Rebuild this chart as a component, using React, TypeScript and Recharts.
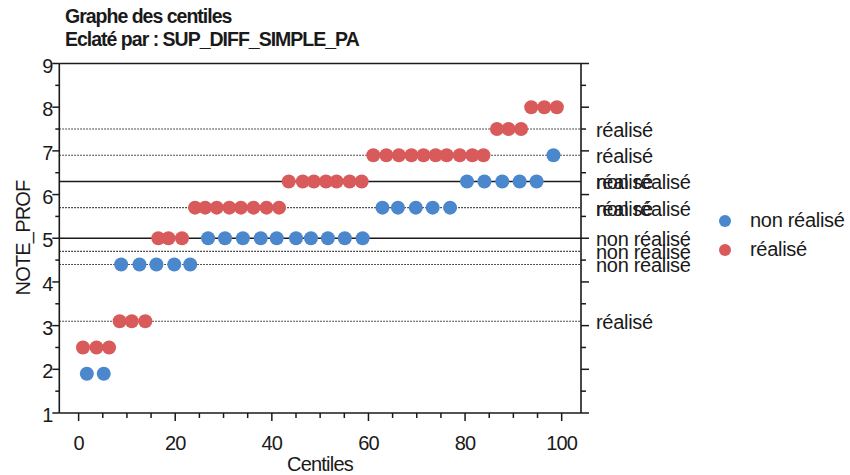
import { ScatterChart, Scatter, XAxis, YAxis, ReferenceLine, Legend } from "recharts"

const groups = ["non réalisé", "réalisé"]

// non réalisé
const nonRealiseCentiles = [
  1.7, 5.2,
  8.8, 12.6, 16.1, 19.8, 23.1,
  26.8, 30.3, 34.0, 37.7, 41.0, 45.0, 48.1, 51.6, 55.1, 58.8,
  62.9, 66.1, 69.8, 73.3, 76.9,
  80.4, 84.0, 87.7, 91.3, 94.8,
  98.3,
]
const nonRealiseNotes = [
  1.9, 1.9,
  4.4, 4.4, 4.4, 4.4, 4.4,
  5.0, 5.0, 5.0, 5.0, 5.0, 5.0, 5.0, 5.0, 5.0, 5.0,
  5.7, 5.7, 5.7, 5.7, 5.7,
  6.3, 6.3, 6.3, 6.3, 6.3,
  6.9,
]

// réalisé
const realiseCentiles = [
  0.9, 3.7, 6.3,
  8.5, 11.0, 13.8,
  16.5, 18.6, 21.4,
  24.1, 26.2, 28.6, 31.2, 33.6, 36.2, 38.9, 41.5,
  43.5, 46.4, 48.7, 51.2, 53.4, 56.1, 58.6,
  61.0, 63.7, 66.3, 68.9, 71.4, 73.9, 76.2, 78.9, 81.5, 83.8,
  86.6, 89.0, 91.6,
  93.7, 96.4, 99.0,
]
const realiseNotes = [
  2.5, 2.5, 2.5,
  3.1, 3.1, 3.1,
  5.0, 5.0, 5.0,
  5.7, 5.7, 5.7, 5.7, 5.7, 5.7, 5.7, 5.7,
  6.3, 6.3, 6.3, 6.3, 6.3, 6.3, 6.3,
  6.9, 6.9, 6.9, 6.9, 6.9, 6.9, 6.9, 6.9, 6.9, 6.9,
  7.5, 7.5, 7.5,
  8.0, 8.0, 8.0,
]

// lignes de statistiques (médianes en trait plein, le reste en pointillé)
const statNotes = [7.5, 6.9, 6.3, 5.7, 5.0, 4.7, 4.4, 3.1]
const statGroups = [
  ["réalisé"],
  ["réalisé"],
  ["non réalisé", "réalisé"],
  ["non réalisé", "réalisé"],
  ["non réalisé"],
  ["non réalisé"],
  ["non réalisé"],
  ["réalisé"],
]
const medianNotes = [5.0, 6.3]

const xTicks = [0, 5, 10, 15, 20, 25, 30, 35, 40, 45, 50, 55, 60, 65, 70, 75, 80, 85, 90, 95, 100]
const xMajor = [0, 20, 40, 60, 80, 100]
const yTicks = [1, 1.5, 2, 2.5, 3, 3.5, 4, 4.5, 5, 5.5, 6, 6.5, 7, 7.5, 8, 8.5, 9]

const FONT = '"Liberation Sans", Arial, sans-serif'
const INK = "#1a1a1a"
const COLORS = ["#4a87cc", "#d85a5b"]

const nonRealiseData = nonRealiseCentiles.map((c, i) => ({ x: c, y: nonRealiseNotes[i] }))
const realiseData = realiseCentiles.map((c, i) => ({ x: c, y: realiseNotes[i] }))

function BottomTick({ x, y, payload }: any) {
  const major = xMajor.includes(payload.value)
  return (
    <g>
      <line x1={x} x2={x} y1={y} y2={y + (major ? 8 : 5)} stroke={INK} strokeWidth={1.5} />
      {major && (
        <text x={x} y={y + 37} textAnchor="middle" fontFamily={FONT} fontSize={20} letterSpacing={-0.8} fill={INK}>
          {payload.value}
        </text>
      )}
    </g>
  )
}

function TopTick({ x, y, payload }: any) {
  const major = xMajor.includes(payload.value)
  return <line x1={x} x2={x} y1={y} y2={y - (major ? 8 : 5)} stroke={INK} strokeWidth={1.5} />
}

function LeftTick({ x, y, payload }: any) {
  const major = Number.isInteger(payload.value)
  return (
    <g>
      <line x1={x} x2={x - (major ? 7 : 4)} y1={y} y2={y} stroke={INK} strokeWidth={1.5} />
      {major && (
        <text x={x - 6} y={y + 9} textAnchor="end" fontFamily={FONT} fontSize={20} fill={INK}>
          {payload.value}
        </text>
      )}
    </g>
  )
}

function RightTick({ x, y, payload }: any) {
  const major = Number.isInteger(payload.value)
  return <line x1={x} x2={x + (major ? 8 : 5)} y1={y} y2={y} stroke={INK} strokeWidth={1.5} />
}

function StatLabel({ viewBox, labels }: any) {
  const right = viewBox.x + viewBox.width
  return (
    <g>
      {labels.map((t: string) => (
        <text key={t} x={right + 15} y={viewBox.y + 8} fontFamily={FONT} fontSize={20} letterSpacing={-0.3} fill={INK}>
          {t}
        </text>
      ))}
    </g>
  )
}

function LegendBox() {
  return (
    <div style={{ fontFamily: FONT, fontSize: 20, letterSpacing: -0.3, color: INK }}>
      {groups.map((g, i) => (
        <div key={g} style={{ display: "flex", alignItems: "center", height: 29 }}>
          <span
            style={{ display: "inline-block", width: 12, height: 12, borderRadius: 6, background: COLORS[i], marginRight: 19 }}
          />
          <span>{g}</span>
        </div>
      ))}
    </div>
  )
}

export default function App() {
  return (
    <div style={{ position: "absolute", left: 0, top: 0, background: "#fff" }}>
      <ScatterChart width={850} height={475} margin={{ top: 0, right: 0, bottom: 0, left: 0 }}>
        <XAxis
          xAxisId={0}
          type="number"
          dataKey="x"
          domain={[-4, 104]}
          ticks={xTicks}
          interval={0}
          tick={<BottomTick />}
          tickLine={false}
          tickSize={0}
          tickMargin={0}
          height={62}
          axisLine={{ stroke: INK, strokeWidth: 1.6 }}
          allowDataOverflow
        />
        <XAxis
          xAxisId="top"
          orientation="top"
          type="number"
          domain={[-4, 104]}
          ticks={xTicks}
          interval={0}
          tick={<TopTick />}
          tickLine={false}
          tickSize={0}
          tickMargin={0}
          height={63.5}
          axisLine={{ stroke: INK, strokeWidth: 1.6 }}
          allowDataOverflow
        />
        <YAxis
          yAxisId={0}
          type="number"
          dataKey="y"
          domain={[1, 9]}
          ticks={yTicks}
          interval={0}
          tick={<LeftTick />}
          tickLine={false}
          tickSize={0}
          tickMargin={0}
          width={59.3}
          axisLine={{ stroke: INK, strokeWidth: 1.6 }}
          allowDataOverflow
        />
        <YAxis
          yAxisId="right"
          orientation="right"
          type="number"
          domain={[1, 9]}
          ticks={yTicks}
          interval={0}
          tick={<RightTick />}
          tickLine={false}
          tickSize={0}
          tickMargin={0}
          width={269}
          axisLine={{ stroke: INK, strokeWidth: 1.6 }}
          allowDataOverflow
        />
        {statNotes.map((note, i) => {
          const median = medianNotes.includes(note)
          return (
            <ReferenceLine
              key={note}
              y={note}
              stroke={INK}
              strokeWidth={median ? 1.5 : 1.1}
              strokeDasharray={median ? undefined : "1.5 1.5"}
              label={(props: any) => <StatLabel viewBox={props.viewBox} labels={statGroups[i]} />}
            />
          )
        })}
        <Scatter
          name={groups[0]}
          data={nonRealiseData}
          fill={COLORS[0]}
          isAnimationActive={false}
          shape={(p: any) => <circle cx={p.cx} cy={p.cy} r={7} fill={COLORS[0]} />}
        />
        <Scatter
          name={groups[1]}
          data={realiseData}
          fill={COLORS[1]}
          isAnimationActive={false}
          shape={(p: any) => <circle cx={p.cx} cy={p.cy} r={7} fill={COLORS[1]} />}
        />
        <Legend
          layout="vertical"
          align="center"
          verticalAlign="middle"
          wrapperStyle={{ left: 719, top: 206, width: 131 }}
          content={() => <LegendBox />}
        />
        <text x={65} y={23} fontFamily={FONT} fontWeight="bold" fontSize={19.5} letterSpacing={-1} fill={INK}>
          Graphe des centiles
        </text>
        <text x={65} y={46} fontFamily={FONT} fontWeight="bold" fontSize={19.5} letterSpacing={-1} fill={INK}>
          Eclaté par : SUP_DIFF_SIMPLE_PA
        </text>
        <text x={320} y={471} textAnchor="middle" fontFamily={FONT} fontSize={20} letterSpacing={-0.8} fill={INK}>
          Centiles
        </text>
        <text
          x={30}
          y={238}
          textAnchor="middle"
          transform="rotate(-90 30 238)"
          fontFamily={FONT}
          fontSize={20}
          letterSpacing={-0.8}
          fill={INK}
        >
          NOTE_PROF
        </text>
      </ScatterChart>
    </div>
  )
}
